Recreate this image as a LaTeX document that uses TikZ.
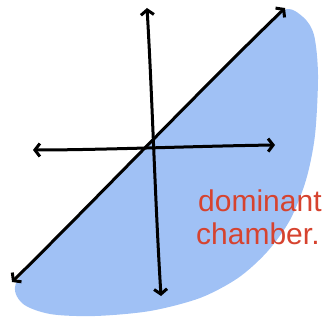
\documentclass[tikz,border=0pt]{standalone}
\usepackage{fontspec}
\setmainfont{Liberation Sans}
\usetikzlibrary{arrows.meta}
\definecolor{chamberblue}{RGB}{160,193,245}
\definecolor{inkred}{RGB}{214,67,47}
\tikzset{
  axis/.style={line width=3pt, line cap=round, line join=round,
    {Straight Barb[length=5pt,width=13pt,line width=3pt]}-{Straight Barb[length=5pt,width=13pt,line width=3pt]}},
  label/.style={text=inkred, font=\fontsize{30}{30}\selectfont, inner sep=0pt, anchor=base west}
}
\begin{document}
\begin{tikzpicture}[x=1pt,y=-1pt]
\useasboundingbox (0,0) rectangle (323,320);
% dominant chamber region
\fill[chamberblue] plot[smooth cycle, tension=0.5] coordinates {
  (17,281) (60,233) (110,183) (150,143) (200,93) (250,43) (284,10)
  (303,17) (314,35) (318,75) (315,135) (306,180) (290,220) (267,252)
  (238,278) (200,298) (150,311) (95,316) (50,314) (22,303)};
% axes
\coordinate (vtop) at (147,8);
\coordinate (vbot) at (161,296);
\coordinate (hleft) at (33,150);
\coordinate (hright) at (275,145);
\coordinate (dlow) at (12,282);
\coordinate (dhigh) at (285,8);
\draw[axis] (vtop) .. controls (152,90) and (155,200) .. (vbot);
\draw[axis] (hleft) .. controls (100,150) and (200,146) .. (hright);
\draw[axis] (dlow) .. controls (100,195) and (200,90) .. (dhigh);
% label
\node[label] (lbl1) at (198,211) {dominant};
\node[label] (lbl2) at (196,244) {chamber.};
\end{tikzpicture}
\end{document}
